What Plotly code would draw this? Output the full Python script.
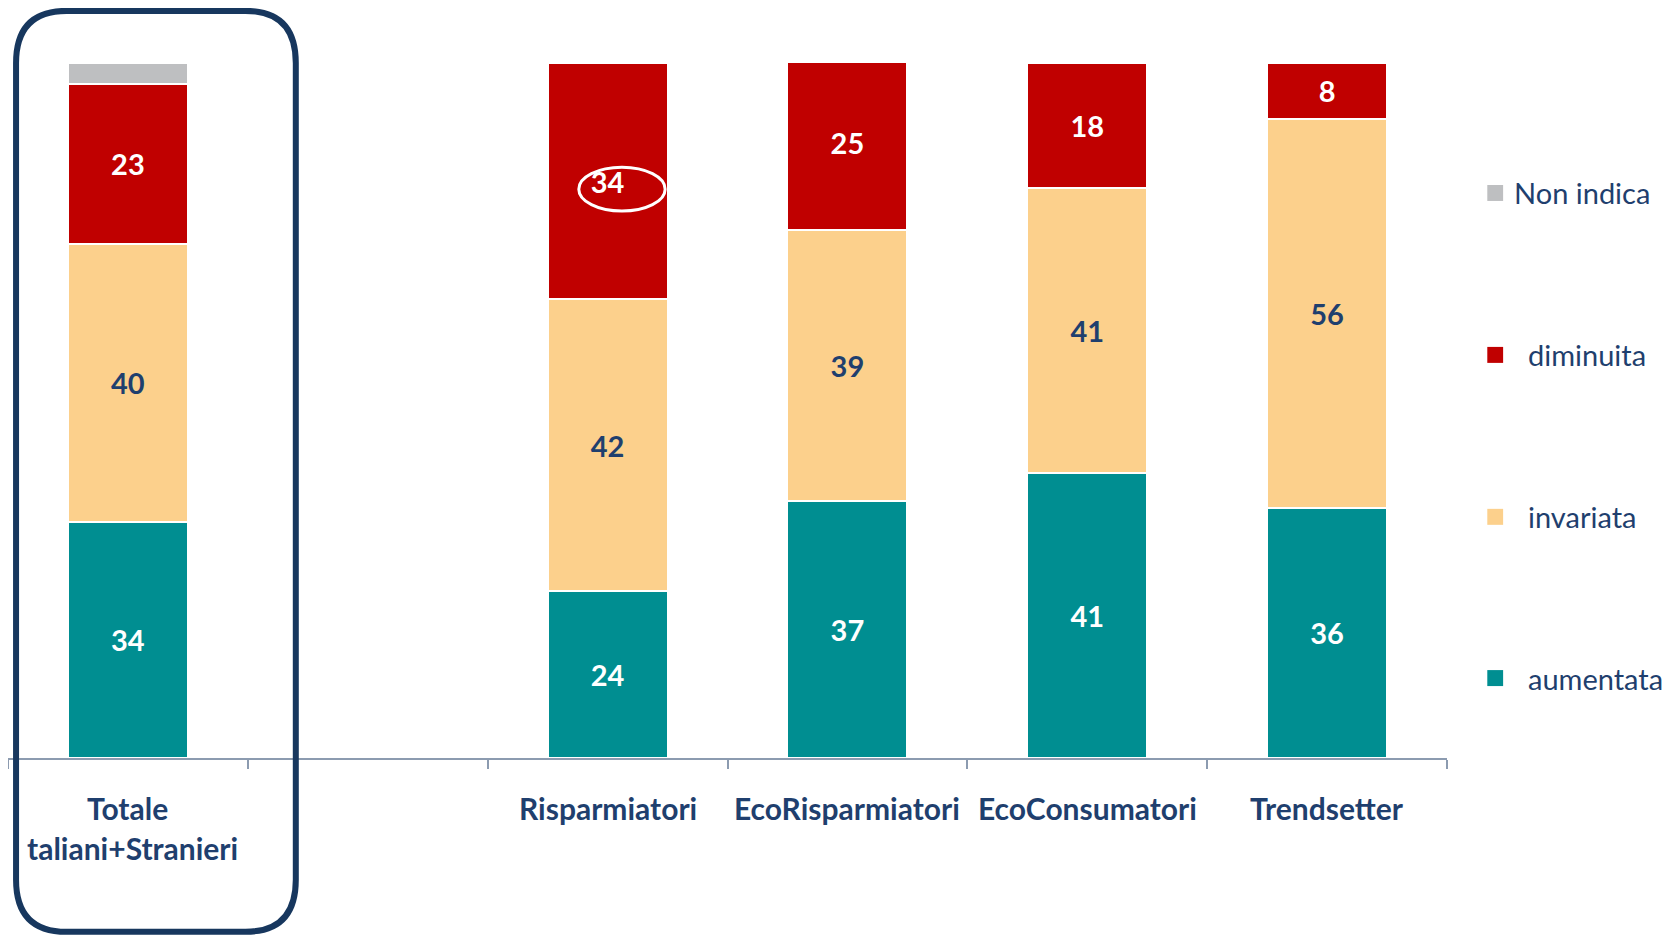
import plotly.graph_objects as go

# Dati
categorie = ["Totale", "", "Risparmiatori", "EcoRisparmiatori", "EcoConsumatori", "Trendsetter"]
aumentata = [34, None, 24, 37, 41, 36]
invariata = [40, None, 42, 39, 41, 56]
diminuita = [23, None, 34, 25, 18, 8]
non_indica = [3, None, 0, 0, 0, 0]

legend_names = ["Non indica", "diminuita", "invariata", "aumentata"]

TEAL = "#008E91"
GOLD = "#FCD08C"
RED = "#C00000"
GRAY = "#BEBFC1"
NAVY = "#1F3F6E"
FONT = "Lato"

xs = list(range(len(categorie)))

fig = go.Figure()


def add_serie(nome, valori, colore, colore_testo, mostra_testo=True):
    testi = [str(v) if (v and mostra_testo) else "" for v in valori]
    fig.add_trace(go.Bar(
        x=xs, y=valori, name=nome,
        marker=dict(color=colore, line=dict(color="white", width=2)),
        text=testi, textposition="inside", insidetextanchor="middle",
        textangle=0, constraintext="none",
        textfont=dict(family=FONT, size=29, color=colore_testo, weight="bold"),
        width=0.5, showlegend=False,
    ))


add_serie("aumentata", aumentata, TEAL, "white")
add_serie("invariata", invariata, GOLD, NAVY)
add_serie("diminuita", diminuita, RED, "white")
add_serie("Non indica", non_indica, GRAY, NAVY, mostra_testo=False)

fig.update_layout(
    barmode="stack",
    width=1654, height=927,
    margin=dict(l=0, r=215, t=55, b=177),
    plot_bgcolor="white", paper_bgcolor="white",
    bargap=0.5,
    font=dict(family=FONT, color=NAVY),
)

fig.update_xaxes(
    range=[-0.5, len(categorie) - 0.5],
    tickvals=[i - 0.5 for i in range(len(categorie) + 1)],
    showticklabels=False,
    ticks="outside", ticklen=9, tickwidth=2, tickcolor="#8C9BB0",
    showline=True, linecolor="#8C9BB0", linewidth=2,
    showgrid=False, zeroline=False,
)
fig.update_yaxes(range=[0, 100], visible=False)

# etichette categorie
for i, c in enumerate(categorie):
    if c:
        fig.add_annotation(x=i, y=-0.072, xref="x", yref="paper", text="<b>%s</b>" % c,
                           showarrow=False, font=dict(size=30, color=NAVY, family=FONT),
                           yanchor="middle")
fig.add_annotation(x=0.02, y=-0.129, xref="x", yref="paper", text="<b>taliani+Stranieri</b>",
                   showarrow=False, font=dict(size=30, color=NAVY, family=FONT), yanchor="middle")

# legenda personalizzata
colori_leg = [GRAY, RED, GOLD, TEAL]
y_leg = [0.813, 0.580, 0.347, 0.115]
for nome, col, yy in zip(legend_names, colori_leg, y_leg):
    fig.add_shape(type="rect", xref="paper", yref="paper",
                  x0=1.028, x1=1.039, y0=yy - 0.0115, y1=yy + 0.0115,
                  fillcolor=col, line=dict(width=0))
    fig.add_annotation(x=1.045 if nome == "Non indica" else 1.055, y=yy, xref="paper", yref="paper",
                       text=nome, showarrow=False, xanchor="left", yanchor="middle",
                       font=dict(size=29, color=NAVY, family=FONT))

# riquadro arrotondato attorno al totale
x0, x1, y0, y1 = 0.0056, 0.200, -0.250, 1.075
rx, ry = 0.035, 0.075
path = (f"M {x0+rx},{y1} L {x1-rx},{y1} Q {x1},{y1} {x1},{y1-ry} "
        f"L {x1},{y0+ry} Q {x1},{y0} {x1-rx},{y0} L {x0+rx},{y0} "
        f"Q {x0},{y0} {x0},{y0+ry} L {x0},{y1-ry} Q {x0},{y1} {x0+rx},{y1} Z")
fig.add_shape(type="path", path=path, xref="paper", yref="paper",
              line=dict(color="#17375E", width=6), layer="above")

# ellisse attorno al 34 dei Risparmiatori
fig.add_shape(type="circle", xref="x", yref="y", x0=1.88, x1=2.24, y0=78.7, y1=85.0,
              line=dict(color="white", width=3), layer="above")

fig.write_html("out.html")
